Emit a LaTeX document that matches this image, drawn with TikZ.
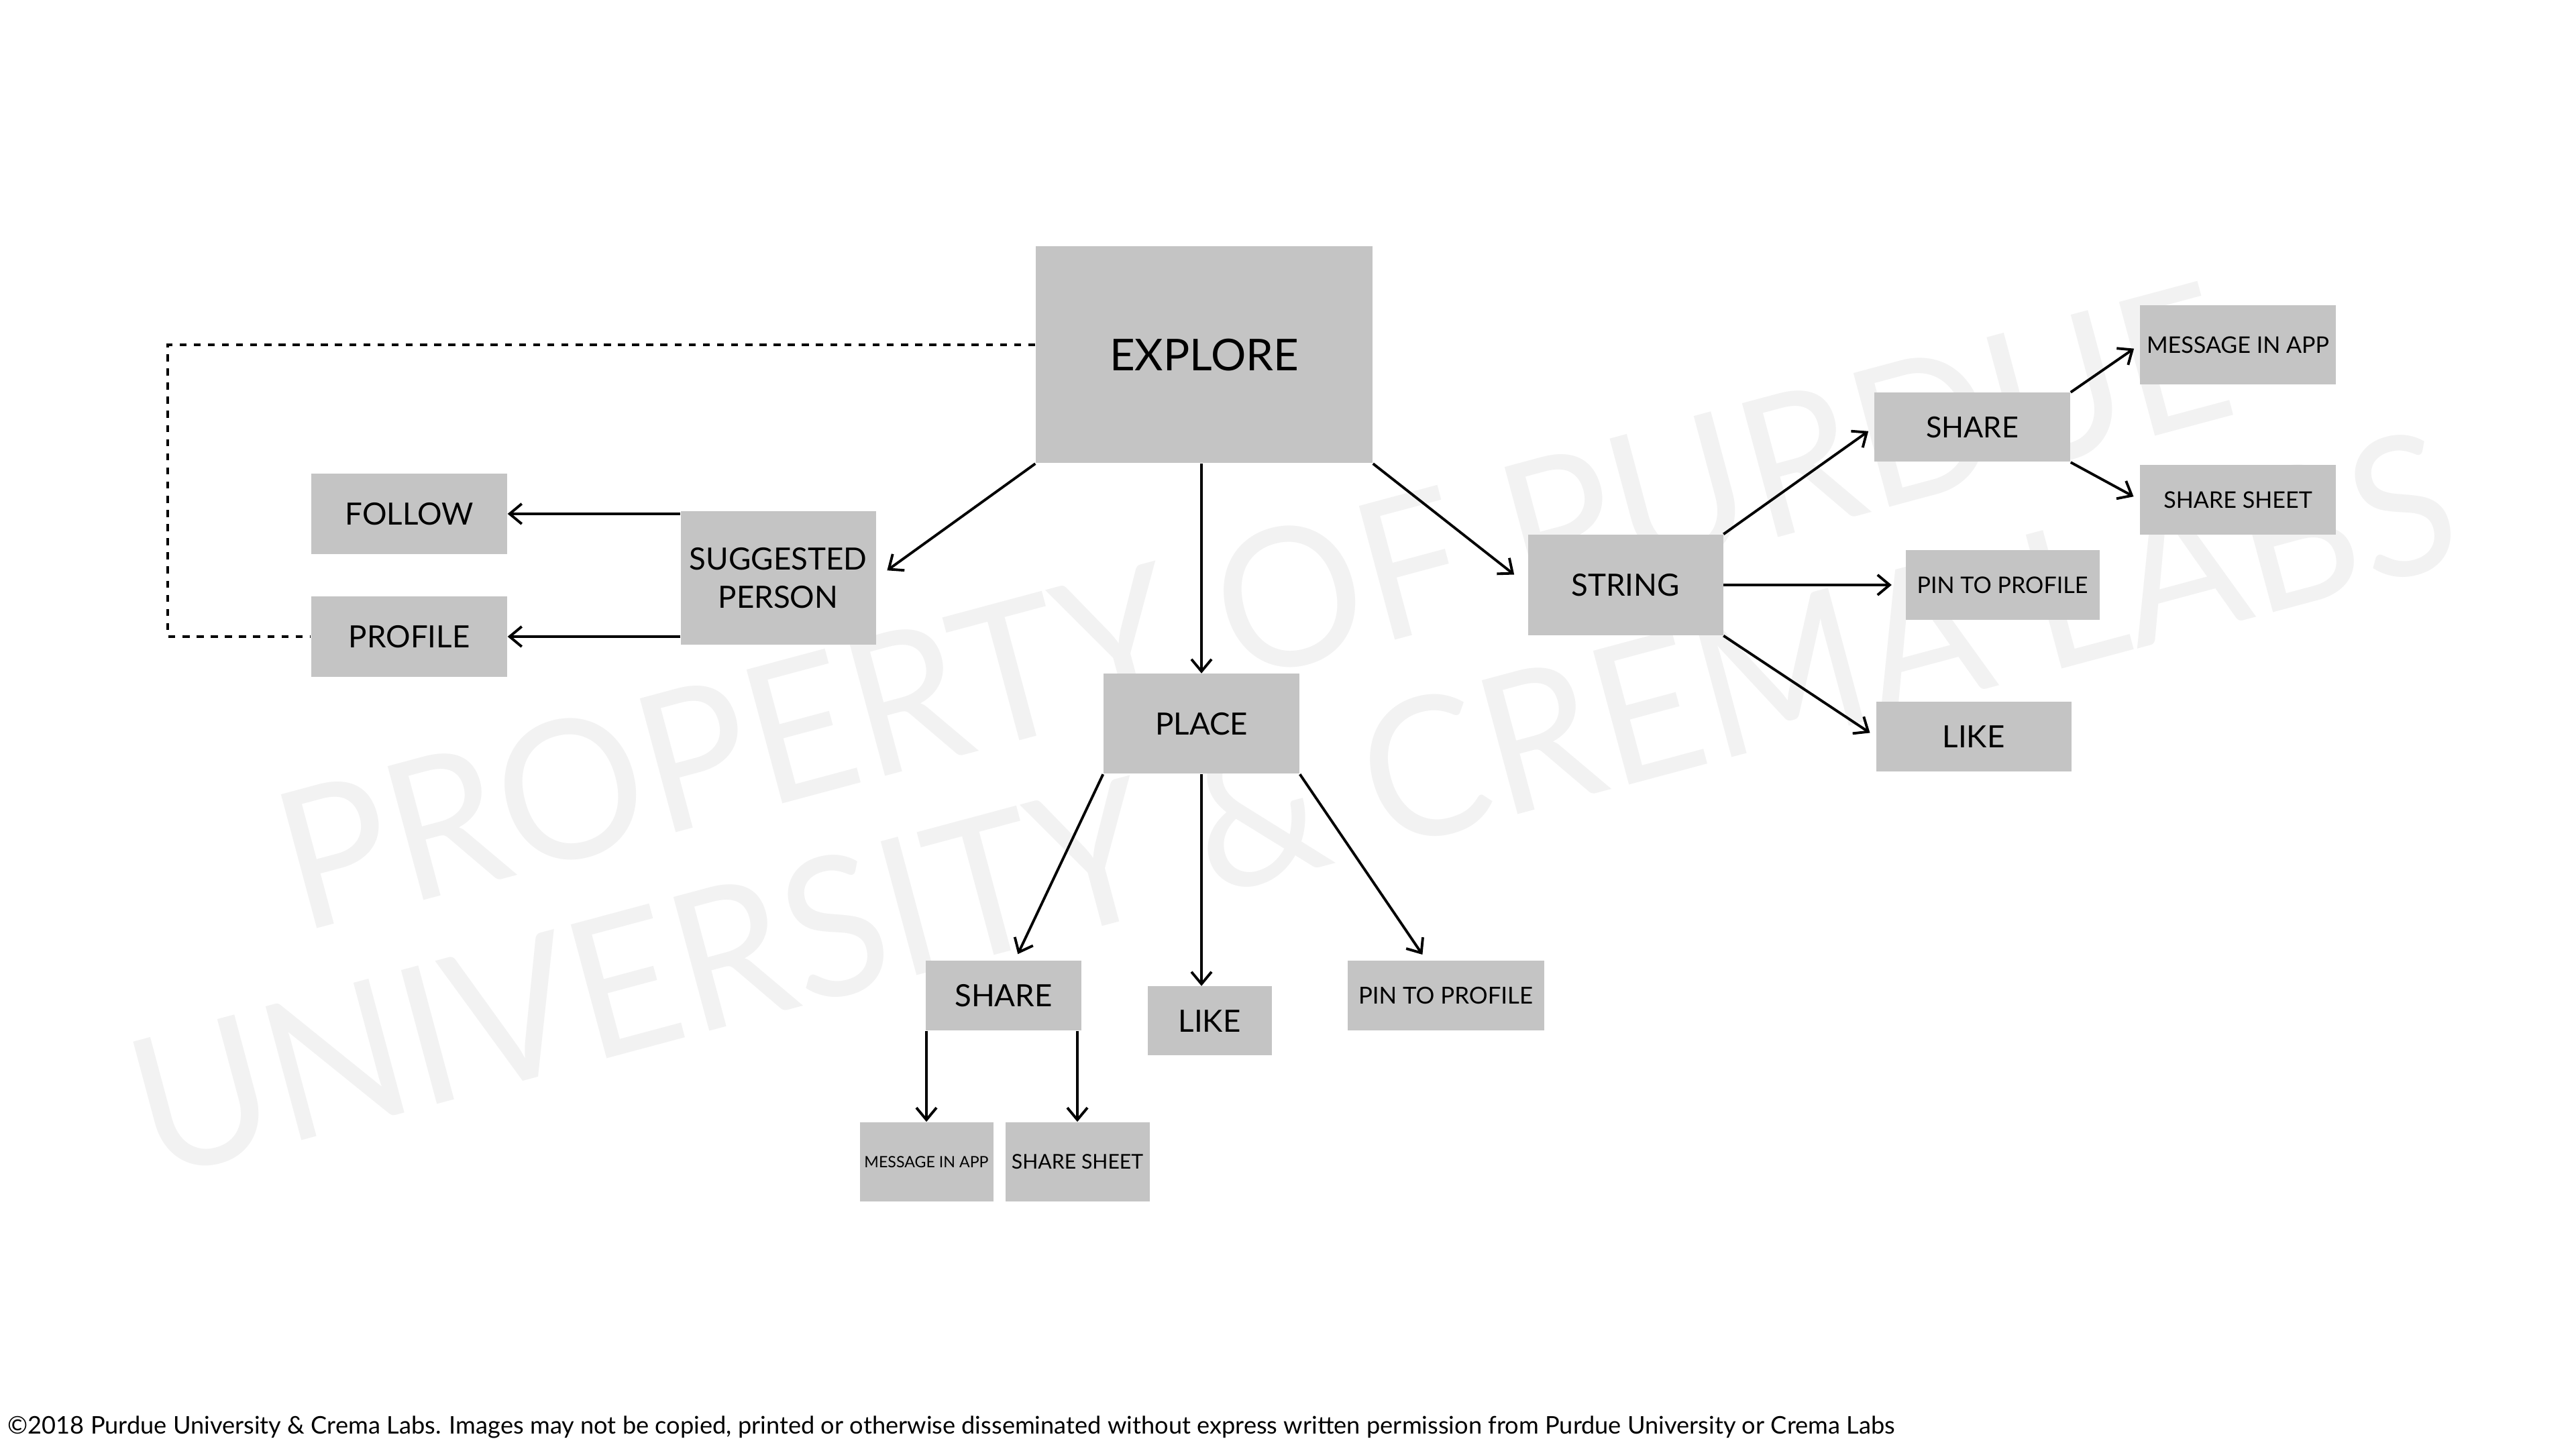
\documentclass[tikz,border=0pt]{standalone}
\usepackage{fontspec}
\setmainfont{Lato}
\usepackage{tikz}
\usetikzlibrary{arrows.meta, positioning}
\definecolor{boxgray}{RGB}{196,196,196}
\definecolor{wmgray}{RGB}{242,242,242}
\tikzset{
  box/.style={fill=boxgray, inner sep=0pt, minimum width=2.91cm, minimum height=1.04cm, align=center, font=\fontsize{13}{16.2}\selectfont},
  smallbox/.style={box, font=\fontsize{9.7}{11}\selectfont},
  link/.style={->, line width=1.1pt},
  wm/.style={text=wmgray, rotate=15, xscale=0.95, anchor=base west, inner sep=0pt, font=\fontsize{82}{90}\selectfont}
}

\begin{document}
\begin{tikzpicture}[>={Straight Barb[length=1.8mm,width=3mm]}]
\useasboundingbox (0,0) rectangle (38.4,21.6);
\node[wm] (wm1) at (4.48,7.69) {PROPERTY OF PURDUE};
\node[wm] (wm2) at (2.30,4.01) {UNIVERSITY \& CREMA LABS};

\node[box, minimum width=5.02cm, minimum height=3.23cm, font=\fontsize{18.6}{22}\selectfont] (explore) at (17.95,16.31) {EXPLORE};
\node[box, minimum width=2.92cm, minimum height=1.20cm] (follow) at (6.10,13.94) {FOLLOW};
\node[box, minimum width=2.92cm, minimum height=1.20cm] (profile) at (6.10,12.11) {PROFILE};
\node[box, minimum height=1.99cm] (sp) at (11.60,12.98) {SUGGESTED\\PERSON};
\node[box, minimum width=2.92cm, minimum height=1.49cm] (place) at (17.91,10.81) {PLACE};
\node[box, minimum height=1.50cm] (string) at (24.23,12.88) {STRING};
\node[box, minimum width=2.92cm, minimum height=1.03cm, font=\fontsize{12.3}{14}\selectfont] (sshare) at (29.40,15.23) {SHARE};
\node[smallbox, minimum width=2.92cm, minimum height=1.18cm] (smsg) at (33.36,16.46) {MESSAGE IN APP};
\node[smallbox, minimum width=2.92cm] (ssheet) at (33.36,14.15) {SHARE SHEET};
\node[smallbox, minimum width=2.89cm] (spin) at (29.85,12.88) {PIN TO PROFILE};
\node[box] (slike) at (29.42,10.62) {LIKE};
\node[box, minimum width=2.32cm] (pshare) at (14.96,6.76) {SHARE};
\node[box, minimum width=1.85cm, minimum height=1.03cm] (plike) at (18.03,6.38) {LIKE};
\node[smallbox, minimum width=2.93cm, font=\fontsize{9.9}{11}\selectfont] (ppin) at (21.55,6.76) {PIN TO PROFILE};
\node[box, minimum width=1.99cm, minimum height=1.18cm, font=\fontsize{6.6}{8}\selectfont] (pmsg) at (13.81,4.28) {MESSAGE IN APP};
\node[box, minimum width=2.15cm, minimum height=1.18cm, font=\fontsize{8.6}{10}\selectfont] (psheet) at (16.06,4.28) {SHARE SHEET};

\coordinate (bend) at (2.50,13.00);
\draw[dashed, line width=1pt] ([yshift=1.5mm]explore.west) -| (bend) |- (profile.west);

\draw[link, shorten >=2mm] (explore.south west) -- (sp.east);
\draw[link] (place.north |- explore.south) -- (place.north);
\draw[link, shorten >=2.5mm] (explore.south east) -- (string.west);
\draw[link] (sp.west |- follow.east) -- (follow.east);
\draw[link] (sp.west |- profile.east) -- (profile.east);
\draw[link, shorten >=1mm] (place.south west) -- ([xshift=1.7mm]pshare.north);
\draw[link] (place.south) -- (place.south |- plike.north);
\draw[link, shorten >=1mm] (place.south east) -- ([xshift=-2.9mm]ppin.north);
\draw[link] (pmsg.north |- pshare.south) -- (pmsg.north);
\draw[link] (psheet.north |- pshare.south) -- (psheet.north);
\draw[link, shorten >=1mm] (string.north east) -- (sshare.west);
\draw[link, shorten >=2mm] (string.east) -- (spin.west);
\draw[link, shorten >=1mm] (string.south east) -- (slike.west);
\draw[link, shorten >=1mm] (sshare.north east) -- (smsg.west);
\draw[link, shorten >=1mm] (sshare.south east) -- (ssheet.west);

\node[anchor=base west, inner sep=0pt, font=\fontsize{10.3}{12}\selectfont] (footer) at (0.11,0.22) {©2018 Purdue University \& Crema Labs. Images may not be copied, printed or otherwise disseminated without express written permission from Purdue University or Crema Labs};
\end{tikzpicture}
\end{document}
